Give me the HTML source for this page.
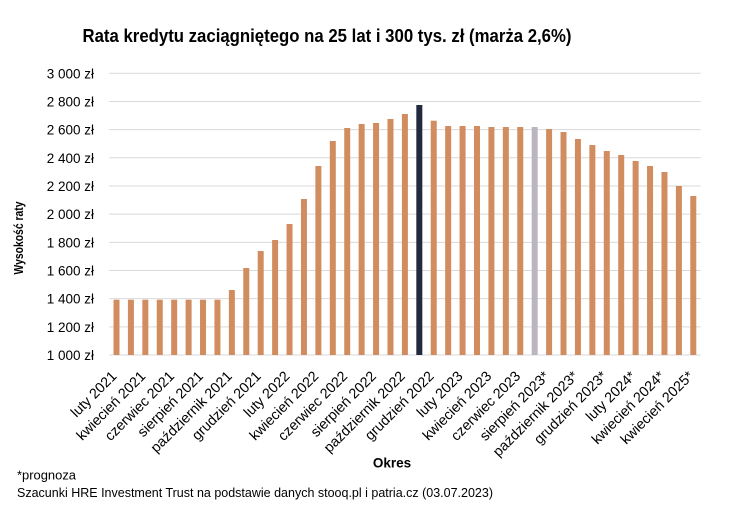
<!DOCTYPE html>
<html>
<head>
<meta charset="utf-8">
<style>
html,body{margin:0;padding:0;background:#fff;}
svg{display:block;}
text{font-family:"Liberation Sans",sans-serif;fill:#000;}
</style>
</head>
<body>
<svg width="730" height="516" viewBox="0 0 730 516" xmlns="http://www.w3.org/2000/svg">
<rect width="730" height="516" fill="#fff"/>
<text x="327" y="42" text-anchor="middle" font-size="18.5" font-weight="bold" textLength="489" lengthAdjust="spacingAndGlyphs">Rata kredytu zaciągniętego na 25 lat i 300 tys. zł (marża 2,6%)</text>

<g stroke="#d9d9d9" stroke-width="1">
<line x1="109.3" x2="700.7" y1="73.3" y2="73.3"/>
<line x1="109.3" x2="700.7" y1="101.47" y2="101.47"/>
<line x1="109.3" x2="700.7" y1="129.64" y2="129.64"/>
<line x1="109.3" x2="700.7" y1="157.81" y2="157.81"/>
<line x1="109.3" x2="700.7" y1="185.98" y2="185.98"/>
<line x1="109.3" x2="700.7" y1="214.15" y2="214.15"/>
<line x1="109.3" x2="700.7" y1="242.32" y2="242.32"/>
<line x1="109.3" x2="700.7" y1="270.49" y2="270.49"/>
<line x1="109.3" x2="700.7" y1="298.66" y2="298.66"/>
<line x1="109.3" x2="700.7" y1="326.83" y2="326.83"/>
<line x1="109.3" x2="700.7" y1="355" y2="355"/>
</g>

<g font-size="13.5" text-anchor="end">
<text x="94" y="78.3">3 000 zł</text>
<text x="94" y="106.5">2 800 zł</text>
<text x="94" y="134.6">2 600 zł</text>
<text x="94" y="162.8">2 400 zł</text>
<text x="94" y="191">2 200 zł</text>
<text x="94" y="219.2">2 000 zł</text>
<text x="94" y="247.3">1 800 zł</text>
<text x="94" y="275.5">1 600 zł</text>
<text x="94" y="303.7">1 400 zł</text>
<text x="94" y="331.8">1 200 zł</text>
<text x="94" y="360">1 000 zł</text>
</g>

<g fill="#D18D5F">
<rect x="113.5" y="299.7" width="6" height="55.3"/>
<rect x="127.92" y="299.7" width="6" height="55.3"/>
<rect x="142.34" y="299.7" width="6" height="55.3"/>
<rect x="156.76" y="299.7" width="6" height="55.3"/>
<rect x="171.18" y="299.7" width="6" height="55.3"/>
<rect x="185.6" y="299.7" width="6" height="55.3"/>
<rect x="200.02" y="299.7" width="6" height="55.3"/>
<rect x="214.44" y="299.7" width="6" height="55.3"/>
<rect x="228.86" y="290" width="6" height="65"/>
<rect x="243.28" y="268" width="6" height="87"/>
<rect x="257.7" y="251" width="6" height="104"/>
<rect x="272.12" y="240" width="6" height="115"/>
<rect x="286.54" y="224" width="6" height="131"/>
<rect x="300.96" y="199" width="6" height="156"/>
<rect x="315.38" y="166" width="6" height="189"/>
<rect x="329.8" y="141" width="6" height="214"/>
<rect x="344.22" y="128" width="6" height="227"/>
<rect x="358.64" y="124" width="6" height="231"/>
<rect x="373.06" y="123" width="6" height="232"/>
<rect x="387.48" y="119" width="6" height="236"/>
<rect x="401.9" y="114" width="6" height="241"/>
<rect x="430.74" y="120.7" width="6" height="234.3"/>
<rect x="445.16" y="126" width="6" height="229"/>
<rect x="459.58" y="126" width="6" height="229"/>
<rect x="474.0" y="126" width="6" height="229"/>
<rect x="488.42" y="127" width="6" height="228"/>
<rect x="502.84" y="127" width="6" height="228"/>
<rect x="517.26" y="127" width="6" height="228"/>
<rect x="546.1" y="129" width="6" height="226"/>
<rect x="560.52" y="132" width="6" height="223"/>
<rect x="574.94" y="139" width="6" height="216"/>
<rect x="589.36" y="145" width="6" height="210"/>
<rect x="603.78" y="151" width="6" height="204"/>
<rect x="618.2" y="155" width="6" height="200"/>
<rect x="632.62" y="161" width="6" height="194"/>
<rect x="647.04" y="166" width="6" height="189"/>
<rect x="661.46" y="172" width="6" height="183"/>
<rect x="675.88" y="186" width="6" height="169"/>
<rect x="690.3" y="196" width="6" height="159"/>
</g>
<rect x="416.32" y="105" width="6" height="250" fill="#232A3D"/>
<rect x="531.68" y="127" width="6" height="228" fill="#BAB5BF"/>

<g font-size="14.3" text-anchor="end">
<text transform="translate(117.5,377) rotate(-45)">luty 2021</text>
<text transform="translate(146.34,377) rotate(-45)">kwiecień 2021</text>
<text transform="translate(175.18,377) rotate(-45)">czerwiec 2021</text>
<text transform="translate(204.02,377) rotate(-45)">sierpień 2021</text>
<text transform="translate(232.86,377) rotate(-45)">październik 2021</text>
<text transform="translate(261.7,377) rotate(-45)">grudzień 2021</text>
<text transform="translate(290.54,377) rotate(-45)">luty 2022</text>
<text transform="translate(319.38,377) rotate(-45)">kwiecień 2022</text>
<text transform="translate(348.22,377) rotate(-45)">czerwiec 2022</text>
<text transform="translate(377.06,377) rotate(-45)">sierpień 2022</text>
<text transform="translate(405.9,377) rotate(-45)">październik 2022</text>
<text transform="translate(434.74,377) rotate(-45)">grudzień 2022</text>
<text transform="translate(463.58,377) rotate(-45)">luty 2023</text>
<text transform="translate(492.42,377) rotate(-45)">kwiecień 2023</text>
<text transform="translate(521.26,377) rotate(-45)">czerwiec 2023</text>
<text transform="translate(550.1,377) rotate(-45)">sierpień 2023*</text>
<text transform="translate(578.94,377) rotate(-45)">październik 2023*</text>
<text transform="translate(607.78,377) rotate(-45)">grudzień 2023*</text>
<text transform="translate(636.62,377) rotate(-45)">luty 2024*</text>
<text transform="translate(665.46,377) rotate(-45)">kwiecień 2024*</text>
<text transform="translate(694.3,377) rotate(-45)">kwiecień 2025*</text>
</g>

<text x="392" y="467.5" text-anchor="middle" font-size="13.5" font-weight="bold">Okres</text>
<text transform="translate(23,238) rotate(-90)" text-anchor="middle" font-size="12.5" font-weight="bold" textLength="73" lengthAdjust="spacingAndGlyphs">Wysokość raty</text>

<text x="17" y="479.5" font-size="13" textLength="59" lengthAdjust="spacingAndGlyphs">*prognoza</text>
<text x="17" y="497" font-size="13" textLength="476" lengthAdjust="spacingAndGlyphs">Szacunki HRE Investment Trust na podstawie danych stooq.pl i patria.cz (03.07.2023)</text>
</svg>
</body>
</html>
